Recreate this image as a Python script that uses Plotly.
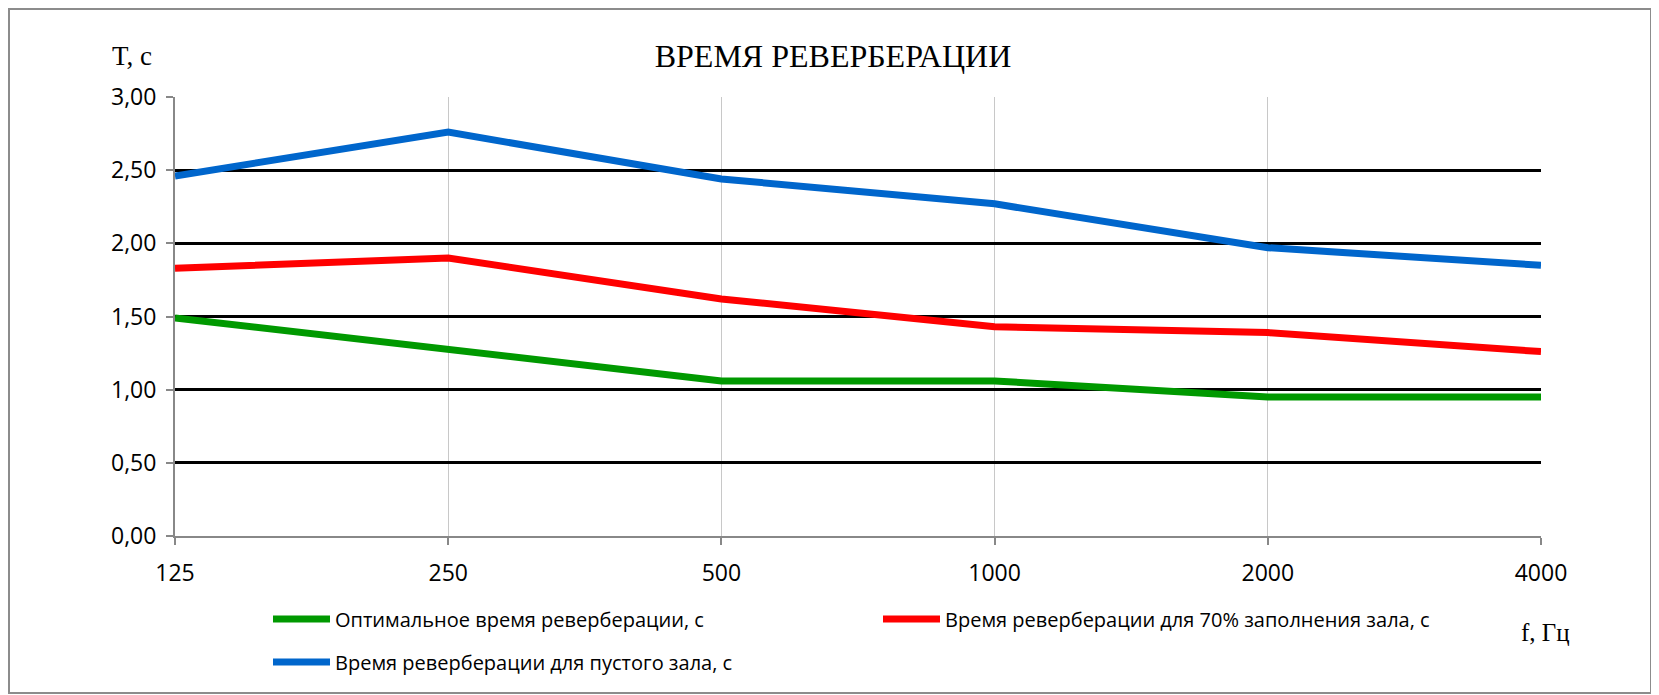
import plotly.graph_objects as go

freqs = ["125", "250", "500", "1000", "2000", "4000"]
optimal = [1.49, 1.28, 1.06, 1.06, 0.95, 0.95]
filled70 = [1.83, 1.90, 1.62, 1.43, 1.39, 1.26]
empty = [2.46, 2.76, 2.44, 2.27, 1.97, 1.85]

names = [
    "Оптимальное время реверберации, с",
    "Время реверберации для 70% заполнения зала, с",
    "Время реверберации для пустого зала, с",
]
colors = ["#009900", "#FF0000", "#0066CC"]
series = [optimal, filled70, empty]
legends = ["legend", "legend", "legend2"]

fig = go.Figure()
for nm, col, vals, lg in zip(names, colors, series, legends):
    fig.add_trace(go.Scatter(x=freqs, y=vals, mode="lines", name=nm, legend=lg,
                             line=dict(color=col, width=7)))

# figure sits inside the page body (8px margin), so work in figure pixels
W, H = 1651, 687
L, R, T, B = 167, 118, 89, 159
pw, ph = W - L - R, H - T - B


def px(x):
    return (x - L) / pw


def py(y):
    return (H - B - y) / ph


leg_common = dict(orientation="h", xanchor="left", yanchor="middle",
                  entrywidth=538, entrywidthmode="pixels", itemwidth=57,
                  font=dict(family="Open Sans", size=20, color="black"),
                  bgcolor="rgba(0,0,0,0)", traceorder="normal")

fig.update_layout(
    width=W, height=H,
    margin=dict(l=L, r=R, t=T, b=B, pad=0),
    paper_bgcolor="white", plot_bgcolor="white",
    separators=", ",
    showlegend=True,
    legend=dict(x=px(260), y=py(611), **leg_common),
    legend2=dict(x=px(260), y=py(654), **leg_common),
    title=dict(text="ВРЕМЯ РЕВЕРБЕРАЦИИ", xref="container", x=825 / W, xanchor="center",
               y=1 - 48 / H, yanchor="middle",
               font=dict(family="Liberation Serif", size=32, color="black")),
    xaxis=dict(type="category", range=[0, 5], showgrid=True, gridcolor="#C8C8C8", gridwidth=1,
               showline=True, linecolor="#888888", linewidth=2, ticks="outside", ticklen=7,
               tickcolor="#888888", tickwidth=2, zeroline=False, ticklabelstandoff=8,
               tickfont=dict(family="Open Sans", size=23, color="black")),
    yaxis=dict(range=[0, 3], dtick=0.5, tick0=0, tickformat=".2f", showgrid=True,
               gridcolor="black", gridwidth=2.5, showline=True, linecolor="#888888", linewidth=2,
               ticks="outside", ticklen=7, tickcolor="#888888", tickwidth=2, zeroline=False,
               ticklabelstandoff=5,
               tickfont=dict(family="Open Sans", size=23, color="black")),
    annotations=[
        dict(text="T, c", xref="paper", yref="paper", x=px(124), y=py(48), showarrow=False,
             xanchor="center", yanchor="middle",
             font=dict(family="Liberation Serif", size=27, color="black")),
        dict(text="f, Гц", xref="paper", yref="paper", x=px(1537), y=py(624), showarrow=False,
             xanchor="center", yanchor="middle",
             font=dict(family="Liberation Serif", size=25, color="black")),
    ],
    shapes=[
        dict(type="rect", xref="paper", yref="paper", x0=px(1), x1=px(1643), y0=py(685), y1=py(1),
             line=dict(color="#8C8C8C", width=2), layer="below"),
    ],
)

fig.write_html("out.html")
